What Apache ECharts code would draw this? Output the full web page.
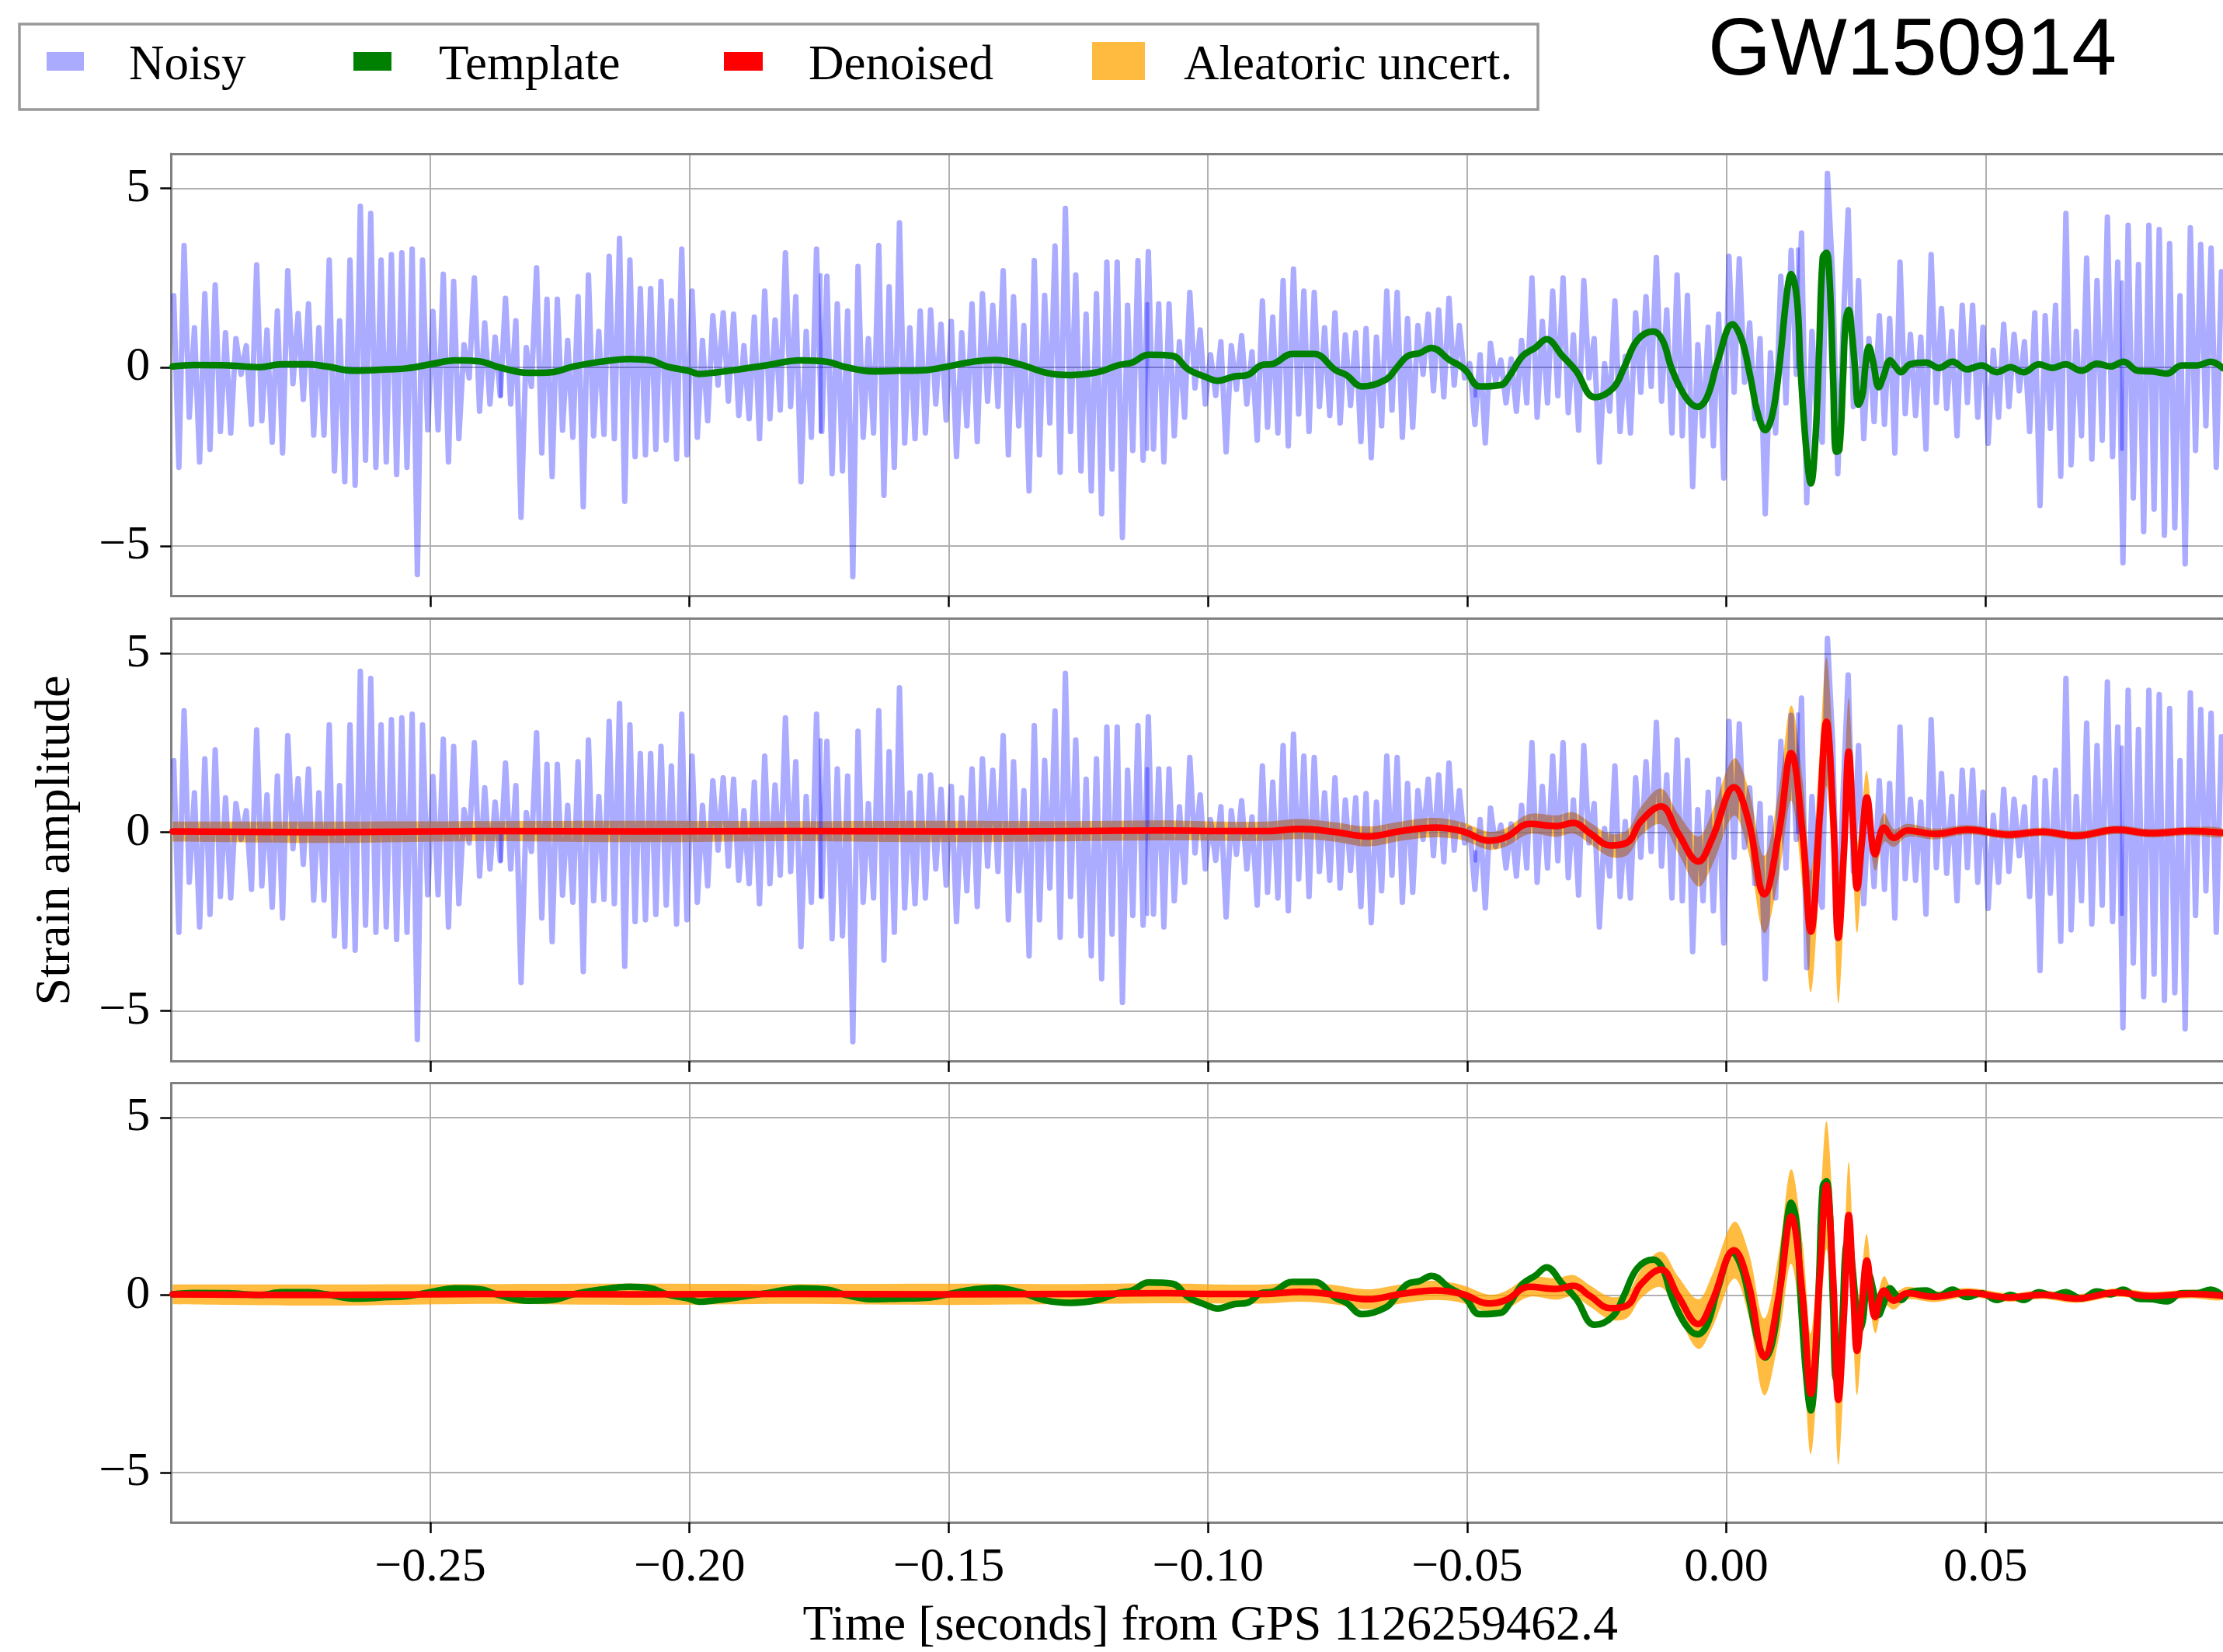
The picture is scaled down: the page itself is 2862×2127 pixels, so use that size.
<!DOCTYPE html>
<html><head><meta charset="utf-8">
<script src="https://cdn.jsdelivr.net/npm/echarts@6/dist/echarts.min.js"></script>
<style>html,body{margin:0;padding:0;background:#fff}#c{width:2862px;height:2127px}</style>
</head><body><div id="c"></div>
<script>
// ---------------- data ----------------
const titleText = 'GW150914';
const xAxisTitle = 'Time [seconds] from GPS 1126259462.4';
const yAxisTitle = 'Strain amplitude';
const legendLabels = ['Noisy', 'Template', 'Denoised', 'Aleatoric uncert.'];
const xTickValues = [-0.25, -0.20, -0.15, -0.10, -0.05, 0.00, 0.05];
const yTickValues = [-5, 0, 5];

// noisy strain, sampled every 1 ms starting at t = -0.2995 s
const NOISY_T0 = -0.2995, NOISY_DT = 0.001;
const noisyValues = [
2.0,-2.8,3.4,-1.4,1.1,-2.65,2.05,-2.3,2.3,-1.8,
0.96,-1.84,0.8,-0.2,0.6,-1.6,2.86,-1.5,1.04,-2.1,
1.57,-2.4,2.7,-0.46,1.5,-0.9,1.77,-1.9,1.1,-1.9,
3.0,-2.9,1.3,-3.2,3.0,-3.3,4.5,-2.6,4.3,-2.8,
3.0,-2.65,3.15,-3.0,3.2,-2.8,3.3,-5.8,3.0,-1.75,
1.56,-1.75,2.6,-2.65,2.4,-2.0,0.63,-0.3,2.5,-1.23,
1.24,-1.03,0.84,-0.8,1.93,-1.03,1.3,-4.2,0.55,-0.54,
2.78,-2.4,1.9,-3.06,1.9,-1.76,0.75,-1.96,1.97,-3.9,
2.58,-1.92,1.0,-1.88,3.1,-2.0,3.6,-3.75,3.0,-2.5,
2.2,-2.45,2.2,-2.3,2.4,-2.04,1.85,-2.57,3.3,-2.45,
2.13,-1.96,0.75,-1.5,1.44,-0.5,1.52,-0.95,1.48,-1.35,
0.6,-1.44,1.4,-2.0,2.13,-1.44,1.32,-1.2,3.2,-1.1,
1.97,-3.2,1.0,-1.96,3.3,-1.8,2.54,-2.98,1.77,-2.9,
1.57,-5.86,2.82,-1.96,0.8,-1.84,3.4,-3.58,2.25,-2.8,
4.04,-2.12,1.1,-2.0,1.57,-1.84,1.6,-1.03,1.2,-1.48,
1.28,-2.5,0.96,-1.64,1.77,-2.08,2.05,-0.95,1.73,-1.1,
2.7,-2.45,1.97,-1.64,1.16,-3.46,2.98,-2.45,2.01,-1.56,
3.39,-2.94,4.44,-1.8,2.58,-2.9,1.48,-3.46,2.05,-4.1,
2.94,-2.85,2.94,-4.76,1.73,-2.33,2.98,-2.6,3.23,-2.29,
1.77,-2.65,1.77,-1.92,0.71,-1.4,2.09,-0.58,1.04,-1.03,
0.35,-0.79,0.71,-2.37,0.6,-0.62,0.88,-1.03,0.43,-2.04,
1.85,-1.68,1.4,-1.84,2.42,-2.2,2.74,-1.31,2.13,-1.8,
2.09,-1.1,1.1,-1.35,1.52,-1.56,0.9,-1.07,0.96,-2.08,
1.08,-2.53,0.84,-1.64,2.13,-1.2,2.09,-1.96,1.36,-1.68,
1.16,-0.2,1.48,-0.66,1.6,-0.83,1.93,-0.5,1.16,-0.3,
0.1,-1.6,0.35,-2.12,0.67,-0.4,0.2,-1.0,0.23,-1.23,
0.75,-1.0,2.5,-1.4,1.28,-1.0,2.13,-0.8,2.5,-1.27,
0.9,-1.76,2.42,-0.3,0.8,-2.65,0.1,-1.23,1.85,-1.8,
0.3,-1.84,1.52,-0.7,1.97,-0.54,3.07,-0.95,1.6,-1.84,
2.58,-1.92,2.01,-3.34,0.63,-1.92,1.12,-2.2,1.48,-3.1,
3.1,-0.7,3.03,-0.42,1.24,-1.44,0.8,-4.1,0.4,-1.84,
2.54,-1.0,3.27,-0.2,3.75,-3.79,1.0,-1.44,-2.1,5.42,
2.54,-2.98,1.04,4.4,-1.1,2.42,-2.0,0.8,-1.52,1.44,
-1.6,1.36,-2.4,2.94,-1.3,0.92,-1.35,0.84,-2.29,3.15,
-0.99,1.64,-1.15,1.0,-1.92,1.73,-0.99,1.73,-1.4,1.12,
-2.13,0.47,-1.4,1.2,-1.1,0.92,-0.66,0.71,-1.8,1.52,
-3.87,1.44,-1.71,1.73,-3.05,4.3,-2.73,1.0,-1.92,3.05,
-2.57,2.42,-2.04,4.2,-2.5,2.94,-5.47,3.97,-3.66,2.87,
-4.6,3.97,-3.97,3.85,-4.7,3.46,-4.49,2.0,-5.5,3.9,
-2.33,3.43,-1.64,3.33,-2.8,2.67
];
// short stretches where the noisy trace overlaps itself (drawn darker): [time s, from, to]
const noisyOverlap = [
[-0.2364, 0.0, -0.8], [-0.1747, 2.58, -1.8], [-0.1117, 1.77, -2.29],
[-0.0484, -0.55, -0.8], [0.0138, 3.3, 0.0], [0.0763, 2.38, -2.29]
];

// template waveform: [time s, strain]
const templateRows = [
[-0.2997,0.02],[-0.2956,0.06],[-0.2889,0.05],[-0.2830,0.0],[-0.2786,0.08],[-0.2735,0.08],
[-0.2700,0.02],[-0.2647,-0.1],[-0.2580,-0.06],[-0.2544,-0.03],[-0.2500,0.08],[-0.2451,0.19],
[-0.2404,0.16],[-0.2368,0.0],[-0.2311,-0.16],[-0.2265,-0.14],[-0.2224,0.02],[-0.2173,0.15],
[-0.2116,0.23],[-0.2075,0.19],[-0.2044,0.02],[-0.2002,-0.1],[-0.1982,-0.19],[-0.1946,-0.14],
[-0.1904,-0.06],[-0.1853,0.05],[-0.1786,0.19],[-0.1734,0.15],[-0.1698,0.0],[-0.1646,-0.12],
[-0.1595,-0.1],[-0.1543,-0.08],[-0.1502,0.02],[-0.1450,0.16],[-0.1410,0.2],[-0.1363,0.08],
[-0.1311,-0.16],[-0.1265,-0.22],[-0.1213,-0.14],[-0.1172,0.06],[-0.1146,0.13],[-0.1115,0.35],
[-0.1069,0.32],[-0.1038,-0.06],[-0.1007,-0.26],[-0.0981,-0.38],[-0.0950,-0.26],[-0.0924,-0.22],
[-0.0898,0.05],[-0.0873,0.1],[-0.0837,0.37],[-0.0795,0.37],[-0.0754,-0.08],[-0.0733,-0.22],
[-0.0703,-0.54],[-0.0656,-0.34],[-0.0635,0.0],[-0.0615,0.31],[-0.0592,0.39],[-0.0569,0.54],
[-0.0533,0.19],[-0.0515,0.05],[-0.0502,-0.1],[-0.0476,-0.54],[-0.0435,-0.5],[-0.0419,-0.26],
[-0.0393,0.31],[-0.0368,0.55],[-0.0347,0.78],[-0.0316,0.31],[-0.0290,-0.1],[-0.0254,-0.84],
[-0.0218,-0.58],[-0.0197,0.0],[-0.0172,0.75],[-0.0141,1.0],[-0.0123,0.75],[-0.0105,-0.06],
[-0.0079,-0.83],[-0.0056,-1.11],[-0.0037,-0.83],[-0.0017,0.15],[0.0012,1.2],[0.0030,0.75],
[0.0045,-0.18],[0.0061,-1.31],[0.0075,-1.76],[0.0089,-1.31],[0.0102,0.0],[0.0117,2.09],
[0.0125,2.6],[0.0136,1.93],[0.0143,0.0],[0.0154,-2.28],[0.0163,-3.25],[0.0172,-1.96],
[0.0179,0.47],[0.0186,3.07],[0.0193,3.2],[0.0199,2.5],[0.0206,-0.34],[0.0212,-2.37],
[0.0218,-2.3],[0.0225,-0.34],[0.0230,1.28],[0.0236,1.6],[0.0242,0.96],[0.0248,0.0],
[0.0255,-1.05],[0.0263,-0.74],[0.0268,0.0],[0.0275,0.57],[0.0283,0.15],[0.0294,-0.56],
[0.0303,-0.26],[0.0316,0.19],[0.0326,0.02],[0.0337,-0.14],[0.0354,0.08],[0.0385,0.13],
[0.0410,-0.02],[0.0436,0.15],[0.0464,-0.06],[0.0492,0.05],[0.0522,-0.14],[0.0548,0.0],
[0.0573,-0.14],[0.0603,0.08],[0.0629,-0.02],[0.0654,0.08],[0.0685,-0.1],[0.0715,0.1],
[0.0741,0.02],[0.0766,0.15],[0.0794,-0.1],[0.0822,-0.12],[0.0850,-0.18],[0.0878,0.05],
[0.0908,0.05],[0.0934,0.15],[0.0958,-0.03]
];

// denoised estimate: [time s, mean strain, aleatoric sigma]
const denoisedRows = [
[-0.2997,0.02,0.28],[-0.27,0.0,0.3],[-0.24,0.03,0.28],[-0.21,0.02,0.3],[-0.18,0.03,0.28],
[-0.15,0.02,0.3],[-0.125,0.03,0.28],[-0.1083,0.05,0.28],[-0.0987,0.03,0.27],[-0.0887,0.03,0.27],
[-0.0822,0.09,0.28],[-0.0757,0.01,0.27],[-0.0692,-0.12,0.28],[-0.0627,0.03,0.27],[-0.0562,0.13,0.27],
[-0.0510,0.03,0.25],[-0.0458,-0.24,0.25],[-0.0425,-0.14,0.26],[-0.0380,0.23,0.28],[-0.0328,0.17,0.3],
[-0.0295,0.26,0.3],[-0.0263,-0.03,0.3],[-0.0224,-0.37,0.32],[-0.0191,-0.29,0.35],[-0.0165,0.3,0.4],
[-0.0126,0.72,0.5],[-0.0093,-0.03,0.55],[-0.0054,-0.82,0.7],[-0.0028,-0.2,0.75],[0.0015,1.26,0.8],
[0.0043,0.3,0.9],[0.0073,-1.74,1.08],[0.0102,0.05,1.2],[0.0125,2.21,1.33],[0.0147,-0.03,1.5],
[0.0163,-2.78,1.7],[0.0180,0.46,1.75],[0.0193,3.09,1.8],[0.0206,0.46,1.82],[0.0216,-2.95,1.83],
[0.0227,-0.5,1.7],[0.0236,2.25,1.5],[0.0245,0.05,1.35],[0.0252,-1.57,1.25],[0.0262,-0.2,1.0],
[0.0271,0.97,0.74],[0.0287,-0.62,0.45],[0.0304,0.13,0.4],[0.0323,-0.16,0.25],[0.0349,0.05,0.18],
[0.0401,-0.05,0.15],[0.0466,0.07,0.13],[0.0544,-0.07,0.12],[0.0610,0.01,0.12],[0.0675,-0.1,0.12],
[0.0753,0.07,0.12],[0.0818,-0.03,0.12],[0.0896,0.03,0.12],[0.0958,-0.02,0.12]
];

// ---------------- build ----------------
const noisyData = noisyValues.map((v, i) => [NOISY_T0 + i * NOISY_DT, v]);
const overlapData = [];
noisyOverlap.forEach(r => { overlapData.push([r[0], r[1]], [r[0], r[2]], [r[0], null]); });
const templateData = templateRows.map(r => [r[0], r[1]]);
const denoisedData = denoisedRows.map(r => [r[0], r[1]]);

const SERIF = '"Liberation Serif", "Times New Roman", serif';
const GRID_LEFT = 220.3, GRID_W = 2641.7, GRID_H = 569.5;
const gridTops = [197.9, 796.6, 1394.4];
const X_MIN = -0.3, X_MAX = 0.0958, Y_MIN = -6.4, Y_MAX = 5.97;
const SPINE = { color: '#808080', width: 3 };

const fmtX = v => (v < -1e-9 ? '\u2212' : '') + Math.abs(v).toFixed(2);
const fmtY = v => (v < 0 ? '\u2212' : '') + Math.abs(v);

const grids = gridTops.map(t => ({
  left: GRID_LEFT, top: t, width: GRID_W, height: GRID_H, show: false, containLabel: false
}));

const xAxes = gridTops.map((t, i) => ({
  type: 'value', gridIndex: i, position: 'bottom', min: X_MIN, max: X_MAX, interval: 0.05,
  axisLine: { show: true, onZero: false, lineStyle: SPINE },
  axisTick: { show: true, inside: false, length: 14, customValues: xTickValues,
    lineStyle: { color: '#000', width: 2.5 } },
  axisLabel: { show: i === 2, customValues: xTickValues, formatter: fmtX, margin: 28,
    fontFamily: SERIF, fontSize: 62, color: '#000' },
  splitLine: { show: true, lineStyle: { color: '#b0b0b0', width: 2 } },
  name: i === 2 ? xAxisTitle : '', nameLocation: 'middle', nameGap: 102,
  nameTextStyle: { fontFamily: SERIF, fontSize: 64, color: '#000', padding: [0, 0, 0, 34] }
})).concat(gridTops.map((t, i) => ({
  // top spine of each panel
  type: 'value', gridIndex: i, position: 'top', min: X_MIN, max: X_MAX, interval: 0.05,
  axisLine: { show: true, onZero: false, lineStyle: SPINE },
  axisTick: { show: false }, axisLabel: { show: false }, splitLine: { show: false }
})));

const yAxes = gridTops.map((t, i) => ({
  type: 'value', gridIndex: i, min: Y_MIN, max: Y_MAX, minInterval: 5, maxInterval: 5,
  axisLine: { show: true, onZero: false, lineStyle: SPINE },
  axisTick: { show: true, inside: false, length: 14, customValues: yTickValues,
    lineStyle: { color: '#000', width: 2.5 } },
  axisLabel: { show: true, customValues: yTickValues, formatter: fmtY, margin: 27,
    fontFamily: SERIF, fontSize: 62, color: '#000' },
  splitLine: { show: true, lineStyle: { color: '#b0b0b0', width: 2 } }
}));

const base = { type: 'line', showSymbol: false, symbol: 'none', animation: false, clip: true };
const noisyStyle = { color: '#0000ff', opacity: 0.33, width: 7, join: 'round', cap: 'round' };
const noisySeries = i => [
  Object.assign({}, base, { name: 'Noisy', xAxisIndex: i, yAxisIndex: i, data: noisyData, lineStyle: noisyStyle }),
  Object.assign({}, base, { name: 'Noisy overlap', xAxisIndex: i, yAxisIndex: i, data: overlapData,
    connectNulls: false, lineStyle: Object.assign({}, noisyStyle, { width: 5 }) })
];
const templateSeries = i => Object.assign({}, base, {
  name: 'Template', xAxisIndex: i, yAxisIndex: i, data: templateData, smooth: 0.4,
  lineStyle: { color: '#008000', width: 8.5, join: 'round', cap: 'round' }
});
const denoisedSeries = i => Object.assign({}, base, {
  name: 'Denoised', xAxisIndex: i, yAxisIndex: i, data: denoisedData, smooth: 0.4,
  lineStyle: { color: '#ff0000', width: 8.5, join: 'round', cap: 'round' }
});
// aleatoric band: polygon mean +/- sigma, positioned through the axis scales (api.coord)
const bandSeries = i => ({
  type: 'custom', name: 'Aleatoric uncert.', xAxisIndex: i, yAxisIndex: i,
  data: denoisedRows, encode: { x: 0, y: 1 }, clip: true, animation: false, silent: true,
  renderItem: (params, api) => {
    if (params.dataIndex !== 0) return null;
    const up = denoisedRows.map(r => api.coord([r[0], r[1] + r[2]]));
    const lo = denoisedRows.map(r => api.coord([r[0], r[1] - r[2]])).reverse();
    return {
      type: 'group',
      children: [
        { type: 'polyline', shape: { points: up.concat(lo), smooth: 0.35 },
          style: { fill: '#ffa500', stroke: null, opacity: 0.75 } }
      ]
    };
  }
});

const series = [
  ...noisySeries(0), templateSeries(0),
  bandSeries(1), ...noisySeries(1), denoisedSeries(1),
  bandSeries(2), templateSeries(2), denoisedSeries(2)
];

// legend drawn as graphic (box, swatches, labels)
const swatches = [
  { x: 60, y: 67, w: 48, h: 24, c: '#aaaaff', tx: 166 },
  { x: 455, y: 67, w: 49, h: 24, c: '#008000', tx: 565 },
  { x: 932, y: 67, w: 50, h: 24, c: '#ff0000', tx: 1041 },
  { x: 1406, y: 54, w: 68, h: 49, c: '#ffbb40', tx: 1524 }
];
const graphic = [
  { type: 'rect', z: 100, shape: { x: 25, y: 31, width: 1955, height: 110 },
    style: { fill: '#fff', stroke: '#999999', lineWidth: 3.5 } }
];
swatches.forEach((s, i) => {
  graphic.push({ type: 'rect', z: 101, shape: { x: s.x, y: s.y, width: s.w, height: s.h }, style: { fill: s.c } });
  graphic.push({ type: 'text', z: 101, x: s.tx, y: 85,
    style: { text: legendLabels[i], font: '63px ' + SERIF, fill: '#000',
      textAlign: 'left', align: 'left', textVerticalAlign: 'middle', verticalAlign: 'middle' } });
});
graphic.push({ type: 'text', z: 101, x: 2462, y: 67,
  style: { text: titleText, font: '104px "Liberation Sans", Arial, sans-serif', fill: '#000',
    textAlign: 'center', align: 'center', textVerticalAlign: 'middle', verticalAlign: 'middle' } });
graphic.push({ type: 'text', z: 101, x: 72, y: 1082, rotation: Math.PI / 2,
  style: { text: yAxisTitle, font: '64px ' + SERIF, fill: '#000',
    textAlign: 'center', align: 'center', textVerticalAlign: 'middle', verticalAlign: 'middle' } });

const chart = echarts.init(document.getElementById('c'), null, { renderer: 'canvas', width: 2862, height: 2127 });
chart.setOption({
  backgroundColor: '#ffffff',
  animation: false,
  grid: grids, xAxis: xAxes, yAxis: yAxes, series: series, graphic: graphic
});
</script></body></html>
